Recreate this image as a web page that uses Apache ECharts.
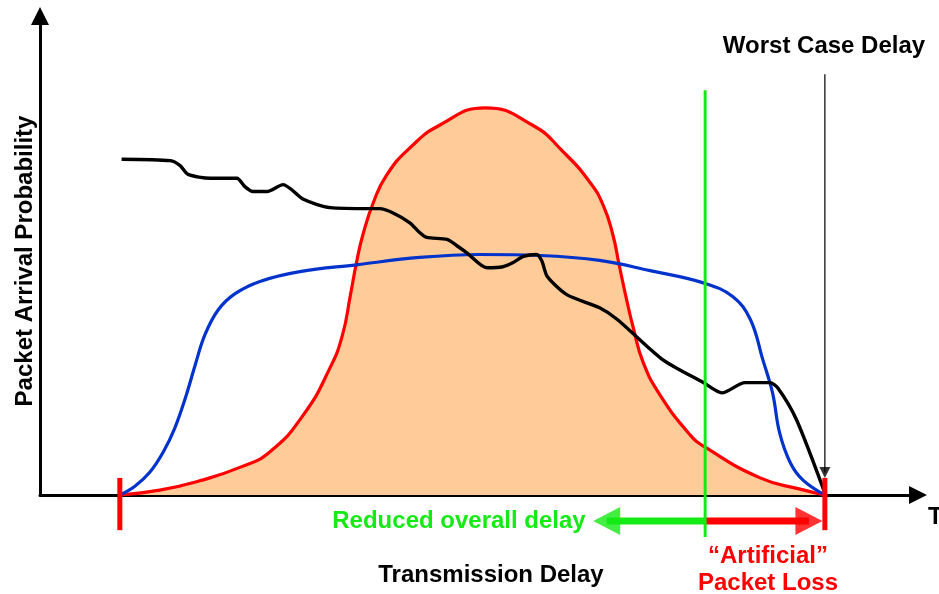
<!DOCTYPE html>
<html>
<head>
<meta charset="utf-8">
<script src="https://cdn.jsdelivr.net/npm/echarts@6/dist/echarts.min.js"></script>
<style>
  html, body { margin: 0; padding: 0; background: #fff; }
  #chart { width: 939px; height: 594px; }
</style>
</head>
<body>
<div id="chart"></div>
<script>
// delay (x) vs arrival probability (y)
var redCurve = [
  [9.0, 0], [13.5, 1.0], [18.0, 2.9], [22.6, 5.7], [25.9, 8.8],
  [29.7, 16.4], [32.7, 26.0], [34.1, 32.7], [35.0, 40.9], [35.7, 47.7],
  [36.4, 53.2], [37.6, 59.9], [39.1, 65.5], [41.7, 71.0], [45.0, 75.6],
  [50.2, 79.2], [55.6, 75.6], [59.0, 70.2],
  [62.0, 64.0], [63.5, 59.3], [64.6, 53.2], [65.3, 47.1], [66.2, 39.5],
  [66.9, 34.2], [68.0, 27.2], [69.9, 20.5], [73.3, 12.3], [75.0, 9.8],
  [81.2, 3.5], [85.7, 1.2], [88.5, 0]
];
var blueCurve = [
  [9.0, 0], [10.7, 1.8], [12.4, 4.7], [13.9, 8.8], [15.2, 13.7], [16.4, 19.9],
  [17.5, 26.6], [18.6, 32.8], [20.1, 37.9], [22.0, 41.2], [24.8, 43.7],
  [29.3, 45.7], [35.7, 47.1], [42.8, 48.6], [49.6, 49.2], [56.4, 49.0],
  [63.1, 48.0], [68.8, 45.9], [74.8, 43.4], [78.1, 40.6], [80.1, 35.9],
  [81.5, 27.7], [82.6, 20.9], [83.4, 12.7], [84.6, 6.6], [86.0, 3.1], [88.5, 0]
];
var blackCurve = [
  [9.2, 68.7], [14.7, 68.4], [15.8, 67.4], [16.7, 65.6], [19.2, 64.8],
  [22.2, 64.8], [23.1, 63.1], [24.0, 62.1], [25.6, 62.1], [27.4, 63.5],
  [29.7, 60.5], [32.7, 58.8], [37.2, 58.6], [38.3, 58.6], [39.7, 57.8],
  [41.7, 55.7], [42.8, 53.7], [43.6, 52.7], [45.9, 52.3], [47.0, 51.0],
  [48.1, 49.6], [50.4, 46.5], [52.2, 46.7], [53.3, 47.5], [54.5, 48.8],
  [56.0, 49.2], [56.6, 47.8], [57.2, 44.7], [59.4, 41.0], [63.1, 38.3],
  [65.1, 35.9], [70.2, 27.7], [74.8, 23.0], [76.9, 20.9], [79.5, 23.0],
  [82.3, 23.0], [83.2, 21.9], [85.3, 15.4], [88.5, 0.4]
];
var startDelay = 9.0;
var cutoffDelay = 75.0;
var worstDelay = 88.5;

var chart = echarts.init(document.getElementById('chart'), null, { renderer: 'canvas' });
var font = 'bold 24px "Liberation Sans", Arial, sans-serif';
var green = '#14ea14';
var red = '#ff0000';

function seg(points, color, width, z) {
  return {
    type: 'line', data: points, symbol: 'none', clip: false, silent: true, z: z,
    lineStyle: { color: color, width: width }
  };
}
function head(pt, rot, size, color, z) {
  return {
    type: 'scatter', data: [pt], symbol: 'triangle', symbolSize: size, symbolRotate: rot,
    itemStyle: { color: color }, clip: false, silent: true, z: z
  };
}
function label(text, x, y, color, align, rot) {
  return {
    type: 'text', x: x, y: y, rotation: rot || 0, z: 20,
    style: { text: text, font: font, fill: color, align: align || 'center', verticalAlign: 'middle' }
  };
}

var arrowY = -5.3;

chart.setOption({
  animation: false,
  grid: { left: 40, right: 21, top: 16, bottom: 99 },
  xAxis: {
    type: 'value', min: 0, max: 99,
    axisLine: { lineStyle: { color: '#000', width: 3 }, symbol: ['none', 'triangle'], symbolSize: [18, 18] },
    axisTick: { show: false }, axisLabel: { show: false }, splitLine: { show: false }
  },
  yAxis: {
    type: 'value', min: 0, max: 98,
    axisLine: { lineStyle: { color: '#000', width: 3 }, symbol: ['none', 'triangle'], symbolSize: [18, 18] },
    axisTick: { show: false }, axisLabel: { show: false }, splitLine: { show: false }
  },
  series: [
    {
      type: 'line', data: redCurve, symbol: 'none', smooth: 0.5, z: 2, silent: true,
      lineStyle: { color: red, width: 3.2 },
      areaStyle: { color: '#ffcc99', opacity: 1 }
    },
    {
      type: 'line', data: blueCurve, symbol: 'none', smooth: 0.4, z: 3, silent: true,
      lineStyle: { color: '#0033cc', width: 3.2 }
    },
    {
      type: 'line', data: blackCurve, symbol: 'none', smooth: 0.25, z: 4, silent: true,
      lineStyle: { color: '#000', width: 3.4 }
    },
    seg([[cutoffDelay, 82.8], [cutoffDelay, -8.6]], green, 3, 6),
    seg([[worstDelay, 86.1], [worstDelay, 4.6]], '#000', 1.2, 5),
    head([worstDelay, 4.6], 180, [11, 11], '#000', 5),
    seg([[startDelay, 3.5], [startDelay, -7.2]], red, 5, 7),
    seg([[worstDelay, 3.5], [worstDelay, -7.2]], red, 5, 7),
    seg([[cutoffDelay, arrowY], [63.9, arrowY]], green, 7, 5),
    head([63.9, arrowY], 90, [28, 27], green, 5),
    seg([[cutoffDelay, arrowY], [86.7, arrowY]], red, 7, 5),
    head([86.7, arrowY], -90, [28, 27], red, 5)
  ],
  graphic: [
    label('Worst Case Delay', 824, 46, '#000'),
    label('Packet Arrival Probability', 25, 261, '#000', 'center', Math.PI / 2),
    label('Reduced overall delay', 459, 521, green),
    label('Transmission Delay', 491, 575, '#000'),
    label('\u201cArtificial\u201d', 768, 556, red),
    label('Packet Loss', 768, 583, red),
    label('T', 928, 517, '#000', 'left')
  ]
});
</script>
</body>
</html>
